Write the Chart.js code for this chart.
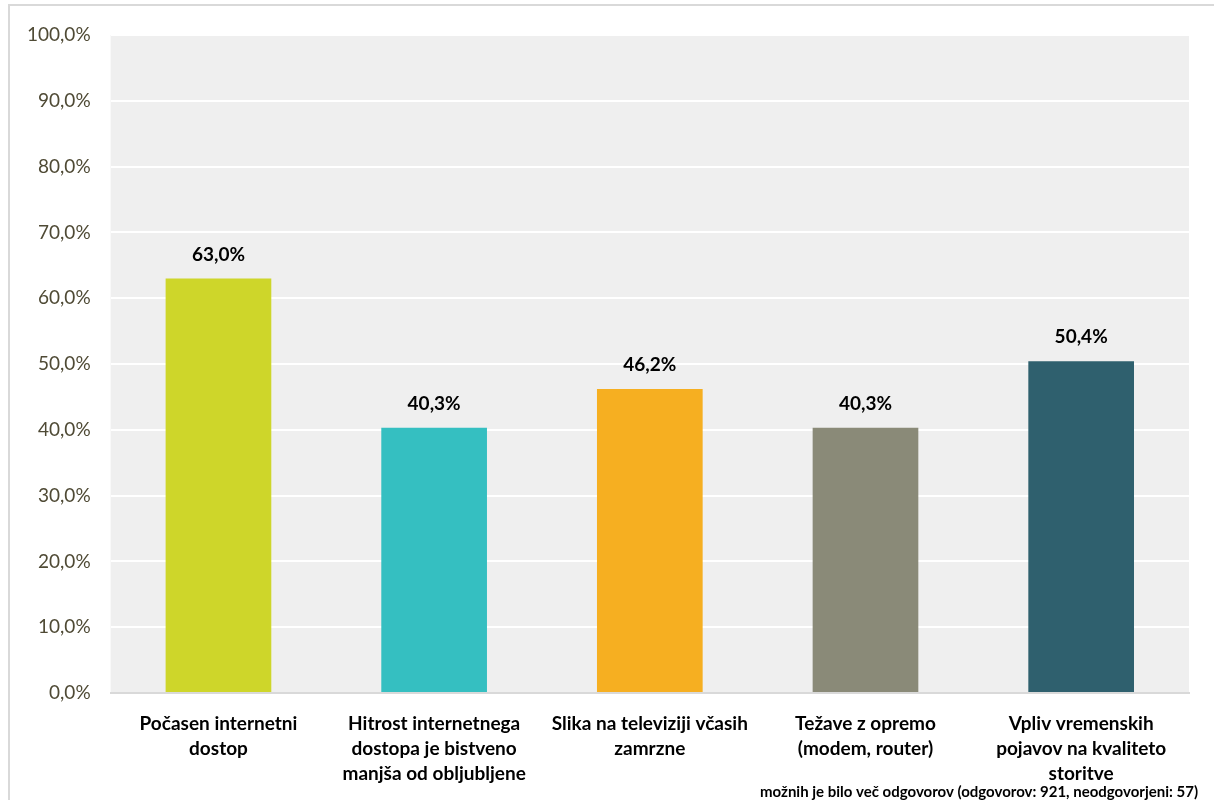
<!DOCTYPE html>
<html><head><meta charset="utf-8">
<script src="https://cdn.jsdelivr.net/npm/chart.js@4/dist/chart.umd.min.js"></script>
<style>html,body{margin:0;padding:0;background:#fff}#wrap{width:1214px;height:800px;position:relative}</style>
</head><body><div id="wrap"><canvas id="c" width="1214" height="800"></canvas></div>
<script>
const categories = [
  ["Počasen internetni", "dostop"],
  ["Hitrost internetnega", "dostopa je bistveno", "manjša od obljubljene"],
  ["Slika na televiziji včasih", "zamrzne"],
  ["Težave z opremo", "(modem, router)"],
  ["Vpliv vremenskih", "pojavov na kvaliteto", "storitve"]
];
const values = [63.0, 40.3, 46.2, 40.3, 50.4];
const barColors = ["#CED62A", "#35BFC1", "#F6AF21", "#8A8A78", "#2F606E"];
const yTicks = [0, 10, 20, 30, 40, 50, 60, 70, 80, 90, 100];
const footnote = "možnih je bilo več odgovorov (odgovorov: 921, neodgovorjeni: 57)";

const FONT = "Lato, 'Open Sans', sans-serif";
const fmt = v => v.toFixed(1).replace('.', ',') + '%';

const decor = {
  id: 'decor',
  beforeDraw(chart) {
    const {ctx, chartArea: a} = chart;
    ctx.save();
    ctx.fillStyle = '#EFEFEF';
    ctx.fillRect(a.left, a.top, a.right - a.left, a.bottom - a.top);
    ctx.strokeStyle = '#D9D9D9';
    ctx.lineWidth = 2;
    ctx.beginPath();
    ctx.moveTo(9, 800); ctx.lineTo(9, 5); ctx.lineTo(1214, 5);
    ctx.stroke();
    ctx.restore();
  },
  afterDatasetsDraw(chart) {
    const {ctx} = chart;
    const meta = chart.getDatasetMeta(0);
    ctx.save();
    ctx.font = "bold 19px " + FONT;
    ctx.fillStyle = '#000';
    ctx.textAlign = 'center';
    ctx.textBaseline = 'middle';
    meta.data.forEach((bar, i) => {
      ctx.fillText(fmt(values[i]), bar.x, bar.y - 24);
    });
    ctx.font = "bold 15px " + FONT;
    ctx.textAlign = 'right';
    ctx.textBaseline = 'alphabetic';
    ctx.fillText(footnote, 1198, 797);
    ctx.restore();
  }
};

new Chart(document.getElementById('c'), {
  type: 'bar',
  data: {
    labels: categories,
    datasets: [{ data: values, backgroundColor: barColors, borderWidth: 0, barPercentage: 0.49, categoryPercentage: 1.0 }]
  },
  options: {
    responsive: false,
    animation: false,
    devicePixelRatio: 1,
    layout: { padding: { left: 7, right: 25, top: 35, bottom: 0 } },
    plugins: { legend: { display: false }, tooltip: { enabled: false } },
    scales: {
      x: {
        afterFit(scale) { scale.height = 107; },
        grid: { display: false, drawTicks: false },
        border: { display: true, color: '#D9D9D9', width: 2 },
        ticks: { color: '#000', font: { family: FONT, size: 19, weight: 'bold', lineHeight: 1.3 }, padding: 19, maxRotation: 0, autoSkip: false }
      },
      y: {
        min: 0, max: 100,
        afterBuildTicks(axis) { axis.ticks = yTicks.map(v => ({ value: v })); },
        grid: { color: '#FFFFFF', lineWidth: 2, drawTicks: false },
        border: { display: false },
        ticks: { color: '#4F4A35', font: { family: FONT, size: 19 }, padding: 20, callback: v => fmt(v) }
      }
    }
  },
  plugins: [decor]
});
</script>
</body></html>
